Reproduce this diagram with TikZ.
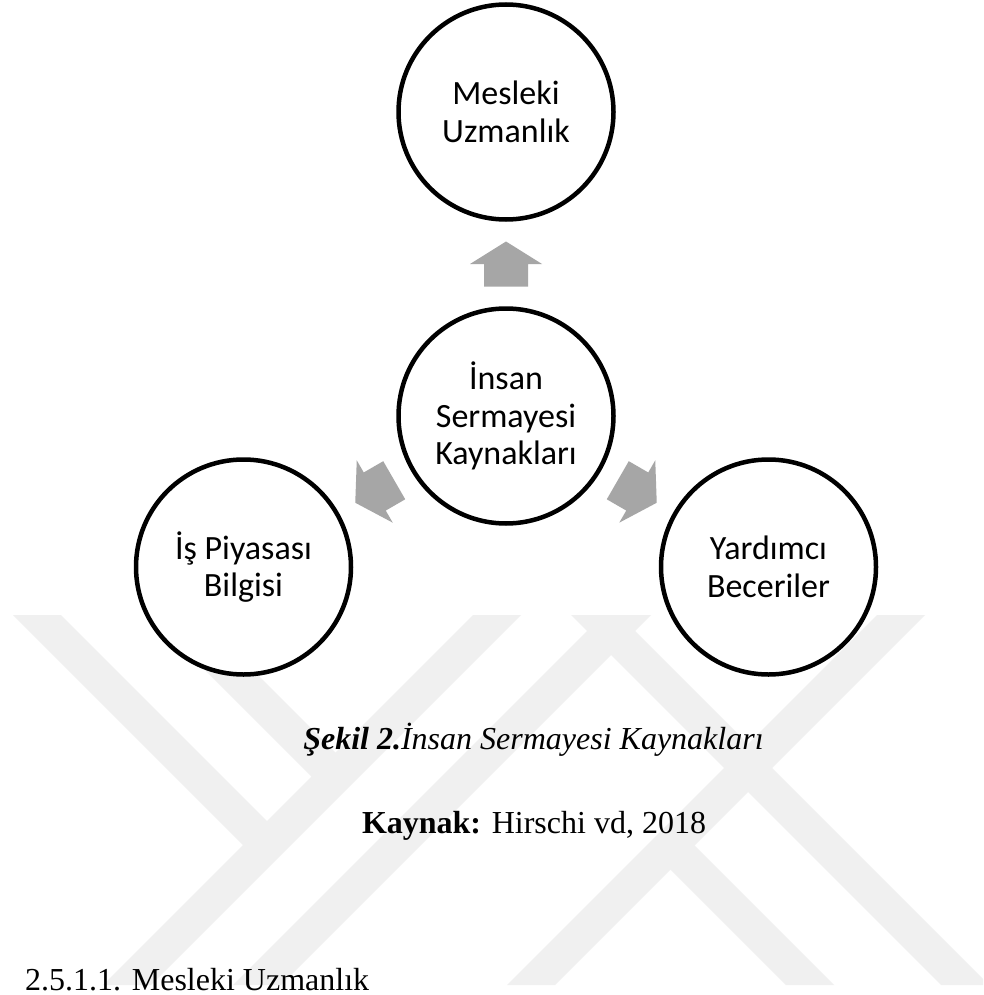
\documentclass[tikz,border=0pt]{standalone}
\usepackage{fontspec}
\setmainfont{Liberation Serif}
\newfontfamily\carlito{Carlito}
\usetikzlibrary{calc}
\definecolor{wmgray}{gray}{0.94}
\definecolor{arrowgray}{RGB}{166,166,166}
\begin{document}
\begin{tikzpicture}[x=1pt,y=-1pt,
  circ/.style={circle, draw=black, line width=4.5pt, fill=white,
    minimum size=215pt, inner sep=0pt, align=center,
    font=\carlito\fontsize{34}{37.5}\selectfont},
  band/.style={fill=wmgray},
  blockarrow/.style={fill=arrowgray},
  serif32/.style={inner sep=0pt, font=\fontsize{32}{38}\selectfont}]
\useasboundingbox (0,0) rectangle (983,995);
\fill[white] (0,0) rectangle (983,995);
% watermark
\begin{scope}
  \clip (0,615) rectangle (983,985);
  \fill[band] (473,615) -- (521,615) -- (151,985) -- (103,985) -- cycle;
  \fill[band] (13,615) -- (61,615) -- (273,827) -- (249,851) -- cycle;
  \fill[band] (150,615) -- (198,615) -- (341.5,758.5) -- (317.5,782.5) -- cycle;
  \fill[band] (603,615) -- (651,615) -- (281,985) -- (233,985) -- cycle;
  \fill[band] (877,615) -- (925,615) -- (555,985) -- (507,985) -- cycle;
  \fill[band] (571,615) -- (619,615) -- (989,985) -- (941,985) -- cycle;
  \fill[band] (665.5,864.5) -- (689.5,840.5) -- (834,985) -- (786,985) -- cycle;
\end{scope}
% circles
\node[circ] (t) at (506,112) {Mesleki\\Uzmanlık};
\node[circ] (c) at (506,416) {İnsan\\Sermayesi\\Kaynakları};
\node[circ] (l) at (243.5,567) {İş Piyasası\\Bilgisi};
\node[circ] (r) at (768.5,567) {Yardımcı\\Beceriler};
% block arrows
\foreach \tgt/\ang in {t/0, l/120, r/-120} {
  \begin{scope}[shift={($(c)!0.5!(\tgt)$)}, rotate=\ang]
    \fill[blockarrow] (-22,22.5) -- (-22,0) -- (-36,0) -- (0,-22.5) -- (36,0) -- (22,0) -- (22,22.5) -- cycle;
  \end{scope}
}
% texts
\node[serif32, anchor=base] (cap) at (533.5,749.5) {\textbf{\textit{Şekil 2.}}\textit{İnsan Sermayesi Kaynakları}};
\node[serif32, anchor=base] (src) at (534,833) {\textbf{Kaynak:} Hirschi vd, 2018};
\node[serif32, anchor=base west] (sec) at (25,990) {2.5.1.1. Mesleki Uzmanlık};
\end{tikzpicture}
\end{document}
